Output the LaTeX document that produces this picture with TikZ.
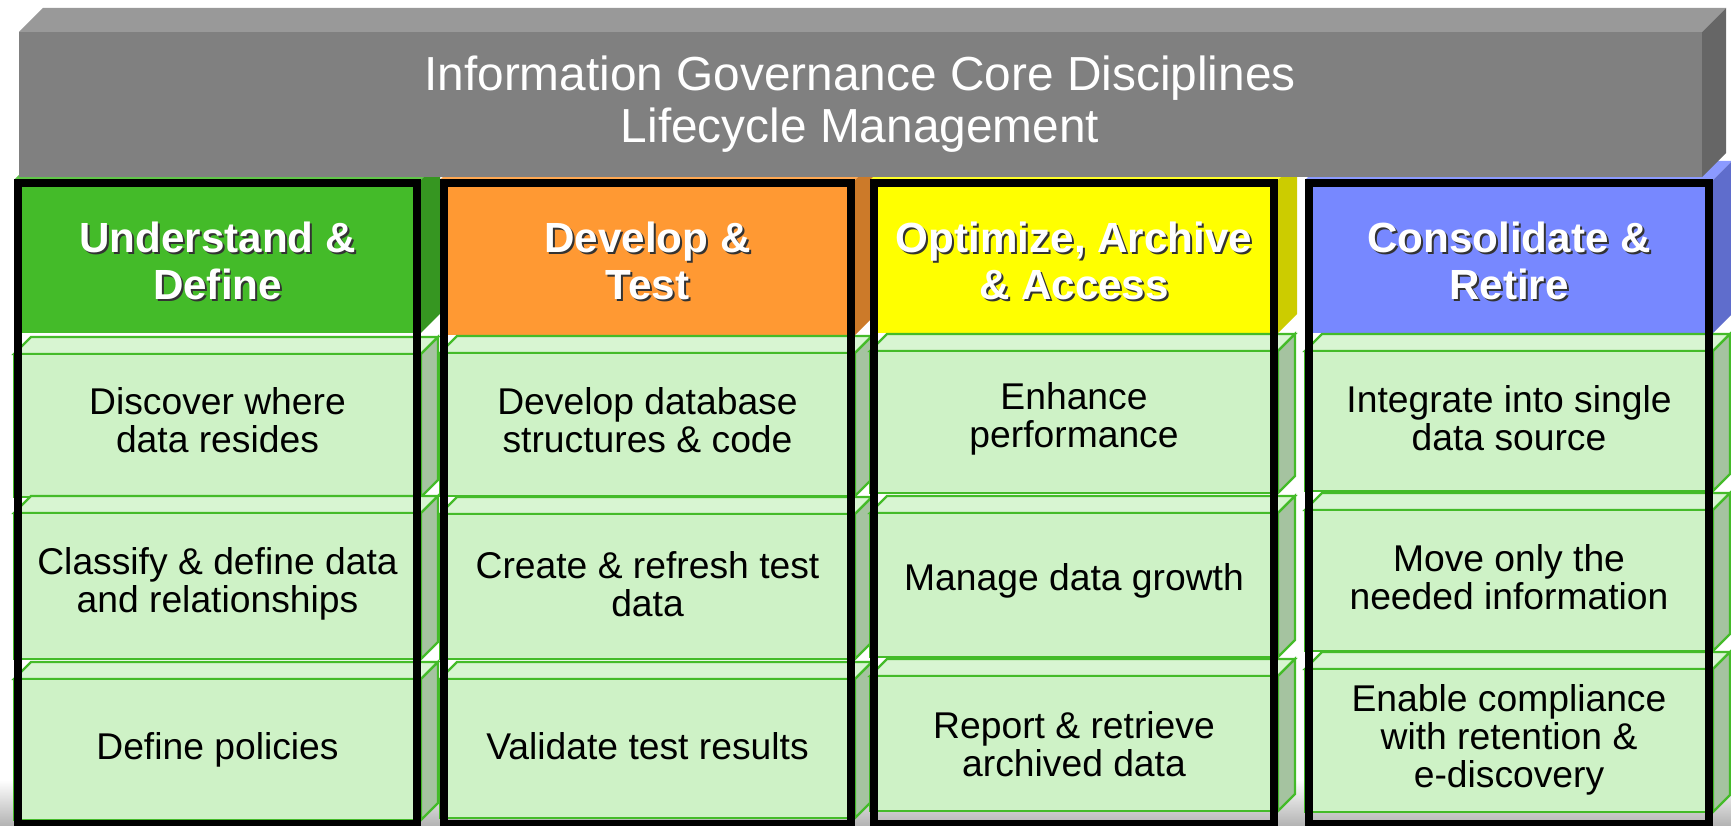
\documentclass[tikz,border=0pt]{standalone}
\usepackage{fontspec}
\setmainfont{Liberation Sans}
\usetikzlibrary{calc}

\definecolor{barfrontc}{RGB}{128,128,128}
\definecolor{bartopc}{RGB}{153,153,153}
\definecolor{barsidec}{RGB}{102,102,102}
\definecolor{rowfrontc}{RGB}{206,242,198}
\definecolor{rowtopc}{RGB}{216,245,210}
\definecolor{rowsidec}{RGB}{165,195,160}
\definecolor{rowedge}{RGB}{68,187,41}
\definecolor{udgreen}{RGB}{68,187,41}
\definecolor{dtorange}{RGB}{255,153,51}
\definecolor{oayellow}{RGB}{255,255,0}
\definecolor{crblue}{RGB}{119,136,255}

% box with top and side face: left, top, right, bottom, depth, top/side/front styles
\newcommand\slab[8]{%
  \path[#6] (#1,#2) -- (#1+#5,#2-#5) -- (#3+#5,#2-#5) -- (#3,#2) -- cycle;
  \path[#7] (#3,#2) -- (#3+#5,#2-#5) -- (#3+#5,#4-#5) -- (#3,#4) -- cycle;
  \path[#8] (#1,#2) rectangle (#3,#4);
}

\begin{document}
\begin{tikzpicture}[
x=0.1mm, y=-0.1mm,
rowtop/.style={fill=rowtopc, draw=rowedge, line width=0.22mm},
rowside/.style={fill=rowsidec, draw=rowedge, line width=0.22mm},
rowfront/.style={fill=rowfrontc, draw=rowedge, line width=0.22mm},
frame/.style={draw=black, line width=0.8mm},
titletext/.style={text=white, align=center, font=\fontsize{13.6}{14.8}\selectfont},
hdtext/.style={text=white, align=center, font=\fontsize{12}{13.2}\selectfont\bfseries},
hdshade/.style={hdtext, text=black!80},
rowtext/.style={align=center, font=\fontsize{10.6}{10.8}\selectfont}
]
\useasboundingbox (0,0) rectangle (1731,826);
\clip (0,0) rectangle (1731,826);
\shade[top color=white, bottom color=black!30] (0,780) rectangle (1731,826);

% headers
\foreach \L/\R/\hb/\c in {14/421/333/udgreen, 440/855/335/dtorange,
                          870/1278/333/oayellow, 1305/1713/333/crblue}
  \slab{\L}{180}{\R}{\hb}{19}{fill=\c!85!white}{fill=\c!80!black}{fill=\c};

% rows
\foreach \L/\R/\ya/\yb/\yc/\yd/\ye/\yf in {14/421/354/497/513/659/679/820,
                                          440/855/353/496/514/659/679/818,
                                          870/1278/351/493/513/657/676/811,
                                          1305/1713/351/491/510/651/669/812}
{
  \slab{\L}{\ya}{\R}{\yb}{17}{rowtop}{rowside}{rowfront}
  \slab{\L}{\yc}{\R}{\yd}{17}{rowtop}{rowside}{rowfront}
  \slab{\L}{\ye}{\R}{\yf}{17}{rowtop}{rowside}{rowfront}
}

\foreach \L/\R in {14/421, 440/855, 870/1278, 1305/1713}
  \draw[frame] (\L+4,183) rectangle (\R-4,824);

% title bar
\slab{19}{32}{1702}{177}{24}{fill=bartopc}{fill=barsidec}{fill=barfrontc}
\node[titletext] (title) at (860,104) {Information Governance Core Disciplines\\Lifecycle Management};

\node[hdshade] (hd1s) at (219.5,263) {Understand \&\\Define};
\node[hdtext] (hd1) at (217.5,261) {Understand \&\\Define};
\node[hdshade] (hd2s) at (649.5,263) {Develop \&\\Test};
\node[hdtext] (hd2) at (647.5,261) {Develop \&\\Test};
\node[hdshade] (hd3s) at (1076,263) {Optimize, Archive\\\& Access};
\node[hdtext] (hd3) at (1074,261) {Optimize, Archive\\\& Access};
\node[hdshade] (hd4s) at (1511,263) {Consolidate \&\\Retire};
\node[hdtext] (hd4) at (1509,261) {Consolidate \&\\Retire};

\node[rowtext] (d1) at (217.5,420) {Discover where\\data resides};
\node[rowtext] (d2) at (217.5,584) {Classify \& define data\\and relationships};
\node[rowtext] (d3) at (217.5,750) {Define policies};
\node[rowtext] (t1) at (647.5,420) {Develop database\\structures \& code};
\node[rowtext] (t2) at (647.5,584) {Create \& refresh test\\data};
\node[rowtext] (t3) at (647.5,746) {Validate test results};
\node[rowtext] (a1) at (1074,419) {Enhance\\performance};
\node[rowtext] (a2) at (1074,581) {Manage data growth};
\node[rowtext] (a3) at (1074,744) {Report \& retrieve\\archived data};
\node[rowtext] (r1) at (1509,418) {Integrate into single\\data source};
\node[rowtext] (r2) at (1509,577) {Move only the\\needed information};
\node[rowtext] (r3) at (1509,740) {Enable compliance\\with retention \&\\e-discovery};
\end{tikzpicture}
\end{document}
